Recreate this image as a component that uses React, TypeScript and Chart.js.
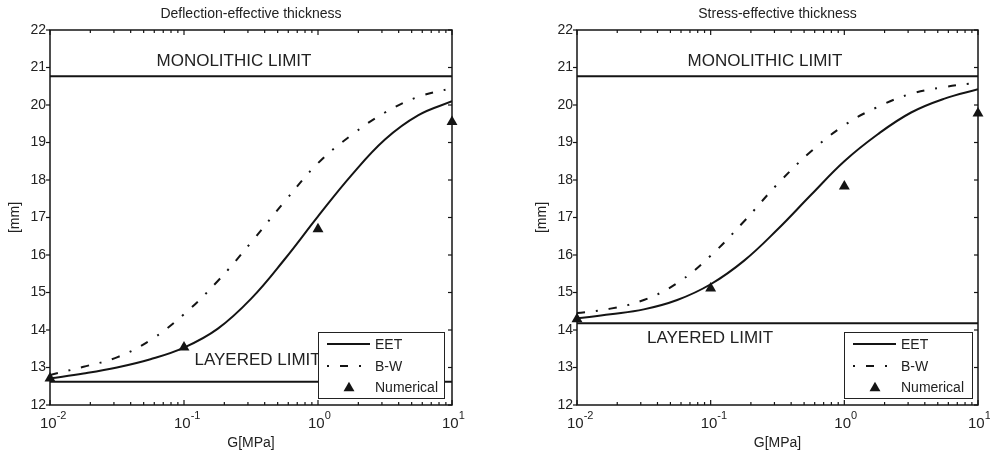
import React, { useEffect, useRef } from "react";
import { Chart, registerables } from "chart.js";

Chart.register(...registerables);

// ---------- data ----------
const G_MPA = [0.01, 0.0178, 0.0316, 0.0562, 0.1, 0.178, 0.316, 0.562, 1, 1.78, 3.16, 5.62, 10];

const DEFLECTION_EET = [12.71, 12.84, 13.0, 13.22, 13.53, 14.03, 14.83, 15.88, 17.03, 18.13, 19.08, 19.73, 20.1];
const DEFLECTION_BW = [12.8, 13.02, 13.27, 13.73, 14.42, 15.3, 16.33, 17.42, 18.45, 19.2, 19.8, 20.22, 20.45];
const NUMERICAL_G = [0.01, 0.1, 1, 10];
const DEFLECTION_NUMERICAL = [12.71, 13.54, 16.69, 19.55];
const DEFLECTION_MONOLITHIC = 20.77;
const DEFLECTION_LAYERED = 12.62;

const STRESS_EET = [14.31, 14.42, 14.55, 14.8, 15.22, 15.85, 16.68, 17.6, 18.5, 19.22, 19.8, 20.17, 20.42];
const STRESS_BW = [14.45, 14.57, 14.8, 15.25, 15.98, 16.9, 17.89, 18.76, 19.46, 19.95, 20.3, 20.48, 20.6];
const STRESS_NUMERICAL = [14.29, 15.11, 17.83, 19.78];
const STRESS_MONOLITHIC = 20.77;
const STRESS_LAYERED = 14.18;

const Y_TICKS = [12, 13, 14, 15, 16, 17, 18, 19, 20, 21, 22];
const X_DECADES = [0.01, 0.1, 1, 10];
const X_EXPONENTS = ["-2", "-1", "0", "1"];
const MINOR_MULTIPLIERS = [2, 3, 4, 5, 6, 7, 8, 9];
const SERIES_LABELS = ["EET", "B-W", "Numerical"];

// ---------- styles ----------
const FONT = 'Arial, "Liberation Sans", Helvetica, sans-serif';
const INK = "#141414";
const TEXT = "#222222";
const BW_DASH = [8, 11, 2, 11];

type Spec = {
  title: string;
  eet: number[];
  bw: number[];
  numerical: number[];
  mono: number;
  layered: number;
  leftWidth: number;
  rightPad: number;
  legendWidth: number;
  legendGap: number;
  notes: { text: string; g: number; v: number }[];
};

const SPECS: Spec[] = [
  {
    title: "Deflection-effective thickness",
    eet: DEFLECTION_EET,
    bw: DEFLECTION_BW,
    numerical: DEFLECTION_NUMERICAL,
    mono: DEFLECTION_MONOLITHIC,
    layered: DEFLECTION_LAYERED,
    leftWidth: 50,
    rightPad: 43,
    legendWidth: 126,
    legendGap: 8,
    notes: [
      { text: "MONOLITHIC LIMIT", g: 0.236, v: 21.17 },
      { text: "LAYERED LIMIT", g: 0.354, v: 13.2 },
    ],
  },
  {
    title: "Stress-effective thickness",
    eet: STRESS_EET,
    bw: STRESS_BW,
    numerical: STRESS_NUMERICAL,
    mono: STRESS_MONOLITHIC,
    layered: STRESS_LAYERED,
    leftWidth: 82,
    rightPad: 12,
    legendWidth: 128,
    legendGap: 6,
    notes: [
      { text: "MONOLITHIC LIMIT", g: 0.255, v: 21.17 },
      { text: "LAYERED LIMIT", g: 0.099, v: 13.79 },
    ],
  },
];

function drawTriangle(ctx: CanvasRenderingContext2D, cx: number, cy: number, r: number) {
  ctx.beginPath();
  ctx.moveTo(cx, cy - r);
  ctx.lineTo(cx + (r * Math.sqrt(3)) / 2, cy + r / 2);
  ctx.lineTo(cx - (r * Math.sqrt(3)) / 2, cy + r / 2);
  ctx.closePath();
  ctx.fill();
}

function line(ctx: CanvasRenderingContext2D, x1: number, y1: number, x2: number, y2: number) {
  ctx.beginPath();
  ctx.moveTo(x1, y1);
  ctx.lineTo(x2, y2);
  ctx.stroke();
}

function makeChart(canvas: HTMLCanvasElement, spec: Spec) {
  const pts = (ys: number[], xs: number[]) => xs.map((g, i) => ({ x: g, y: ys[i] }));
  const ends = [X_DECADES[0], X_DECADES[X_DECADES.length - 1]];

  const decor = {
    id: "decor",
    afterDatasetsDraw(chart: any) {
      const { ctx, chartArea: a, scales } = chart;
      const x = scales.x;
      const y = scales.y;
      ctx.save();

      // annotations
      ctx.fillStyle = TEXT;
      ctx.font = `17px ${FONT}`;
      ctx.textAlign = "center";
      ctx.textBaseline = "middle";
      for (const n of spec.notes) {
        ctx.fillText(n.text, x.getPixelForValue(n.g), y.getPixelForValue(n.v));
      }

      // legend
      const bw = spec.legendWidth;
      const bh = 66;
      const bx = Math.round(a.right - spec.legendGap - bw);
      const by = Math.round(a.bottom - 7 - bh);
      ctx.fillStyle = "#ffffff";
      ctx.fillRect(bx, by, bw, bh);
      ctx.strokeStyle = TEXT;
      ctx.lineWidth = 1;
      ctx.setLineDash([]);
      ctx.strokeRect(bx + 0.5, by + 0.5, bw, bh);
      const rows = [by + 12, by + 34, by + 55];
      ctx.strokeStyle = INK;
      ctx.lineWidth = 2;
      line(ctx, bx + 9, rows[0], bx + 52, rows[0]);
      ctx.setLineDash(BW_DASH);
      ctx.lineDashOffset = 19;
      line(ctx, bx + 9, rows[1], bx + 52, rows[1]);
      ctx.setLineDash([]);
      ctx.lineDashOffset = 0;
      ctx.fillStyle = INK;
      drawTriangle(ctx, bx + 31, rows[2] + 1, 6.3);
      ctx.fillStyle = TEXT;
      ctx.font = `14px ${FONT}`;
      ctx.textAlign = "left";
      ctx.textBaseline = "middle";
      SERIES_LABELS.forEach((lab, i) => ctx.fillText(lab, bx + 57, rows[i] + 1));

      // frame
      ctx.strokeStyle = INK;
      ctx.lineWidth = 1.5;
      ctx.strokeRect(a.left, a.top, a.right - a.left, a.bottom - a.top);

      // y ticks
      ctx.lineWidth = 1.2;
      for (const v of Y_TICKS) {
        const py = y.getPixelForValue(v);
        line(ctx, a.left - 4, py, a.left, py);
        line(ctx, a.right - 4, py, a.right, py);
      }
      // x ticks
      for (let d = 0; d < X_DECADES.length; d++) {
        const dec = X_DECADES[d];
        const px = x.getPixelForValue(dec);
        line(ctx, px, a.bottom, px, a.bottom - 5);
        line(ctx, px, a.top, px, a.top + 5);
        if (d < X_DECADES.length - 1) {
          for (const m of MINOR_MULTIPLIERS) {
            const mx = x.getPixelForValue(dec * m);
            line(ctx, mx, a.bottom, mx, a.bottom - 3);
            line(ctx, mx, a.top, mx, a.top + 3);
          }
        }
      }

      // x tick labels (10 with superscript exponent)
      ctx.fillStyle = TEXT;
      ctx.textAlign = "left";
      ctx.textBaseline = "alphabetic";
      X_DECADES.forEach((dec, i) => {
        const px = x.getPixelForValue(dec);
        ctx.font = `15px ${FONT}`;
        const base = "10";
        const bwid = ctx.measureText(base).width;
        ctx.fillText(base, px - 10, a.bottom + 23);
        ctx.font = `11px ${FONT}`;
        ctx.fillText(X_EXPONENTS[i], px - 10 + bwid, a.bottom + 14);
      });

      // axis titles and chart title
      ctx.font = `14px ${FONT}`;
      ctx.textAlign = "center";
      ctx.textBaseline = "middle";
      const cx = (a.left + a.right) / 2;
      ctx.fillText("G[MPa]", cx, a.bottom + 38);
      ctx.fillText(spec.title, cx, 14);
      ctx.save();
      ctx.translate(a.left - 35, (a.top + a.bottom) / 2);
      ctx.rotate(-Math.PI / 2);
      ctx.fillText("[mm]", 0, 0);
      ctx.restore();

      ctx.restore();
    },
  };

  return new Chart(canvas, {
    type: "line",
    data: {
      datasets: [
        {
          label: SERIES_LABELS[0],
          data: pts(spec.eet, G_MPA),
          borderColor: INK,
          borderWidth: 2,
          pointRadius: 0,
          tension: 0.4,
          fill: false,
        },
        {
          label: SERIES_LABELS[1],
          data: pts(spec.bw, G_MPA),
          borderColor: INK,
          borderWidth: 2,
          borderDash: BW_DASH,
          pointRadius: 0,
          tension: 0.4,
          fill: false,
        },
        {
          label: SERIES_LABELS[2],
          data: pts(spec.numerical, NUMERICAL_G),
          showLine: false,
          pointStyle: "triangle",
          pointRadius: 6.3,
          pointBackgroundColor: INK,
          pointBorderColor: INK,
          pointBorderWidth: 0,
          clip: false,
        } as any,
        {
          label: "monolithic",
          data: pts([spec.mono, spec.mono], ends),
          borderColor: INK,
          borderWidth: 2,
          pointRadius: 0,
        },
        {
          label: "layered",
          data: pts([spec.layered, spec.layered], ends),
          borderColor: INK,
          borderWidth: 2,
          pointRadius: 0,
        },
      ],
    },
    options: {
      responsive: false,
      animation: false,
      events: [],
      layout: { padding: { top: 30, left: 0, right: spec.rightPad, bottom: 0 } },
      plugins: {
        legend: { display: false },
        tooltip: { enabled: false },
        title: { display: false },
      },
      scales: {
        x: {
          type: "logarithmic",
          min: X_DECADES[0],
          max: X_DECADES[X_DECADES.length - 1],
          grid: { display: false, drawTicks: false },
          border: { display: false },
          ticks: { display: false },
          afterFit: (s: any) => {
            s.height = 47;
          },
        },
        y: {
          type: "linear",
          min: Y_TICKS[0],
          max: Y_TICKS[Y_TICKS.length - 1],
          grid: { display: false, drawTicks: false },
          border: { display: false },
          ticks: {
            stepSize: 1,
            padding: 4,
            color: TEXT,
            font: { family: FONT, size: 14 },
          },
          afterFit: (s: any) => {
            s.width = spec.leftWidth;
          },
        },
      },
    } as any,
    plugins: [decor],
  });
}

function Panel({ spec }: { spec: Spec }) {
  const ref = useRef<HTMLCanvasElement | null>(null);
  useEffect(() => {
    if (!ref.current) return;
    const chart = makeChart(ref.current, spec);
    return () => chart.destroy();
  }, [spec]);
  return <canvas ref={ref} width={495} height={452} style={{ display: "block", width: 495, height: 452 }} />;
}

export default function App() {
  return (
    <div
      style={{
        position: "absolute",
        left: 0,
        top: 0,
        width: 990,
        height: 452,
        display: "flex",
        background: "#ffffff",
      }}
    >
      {SPECS.map((s) => (
        <Panel key={s.title} spec={s} />
      ))}
    </div>
  );
}
